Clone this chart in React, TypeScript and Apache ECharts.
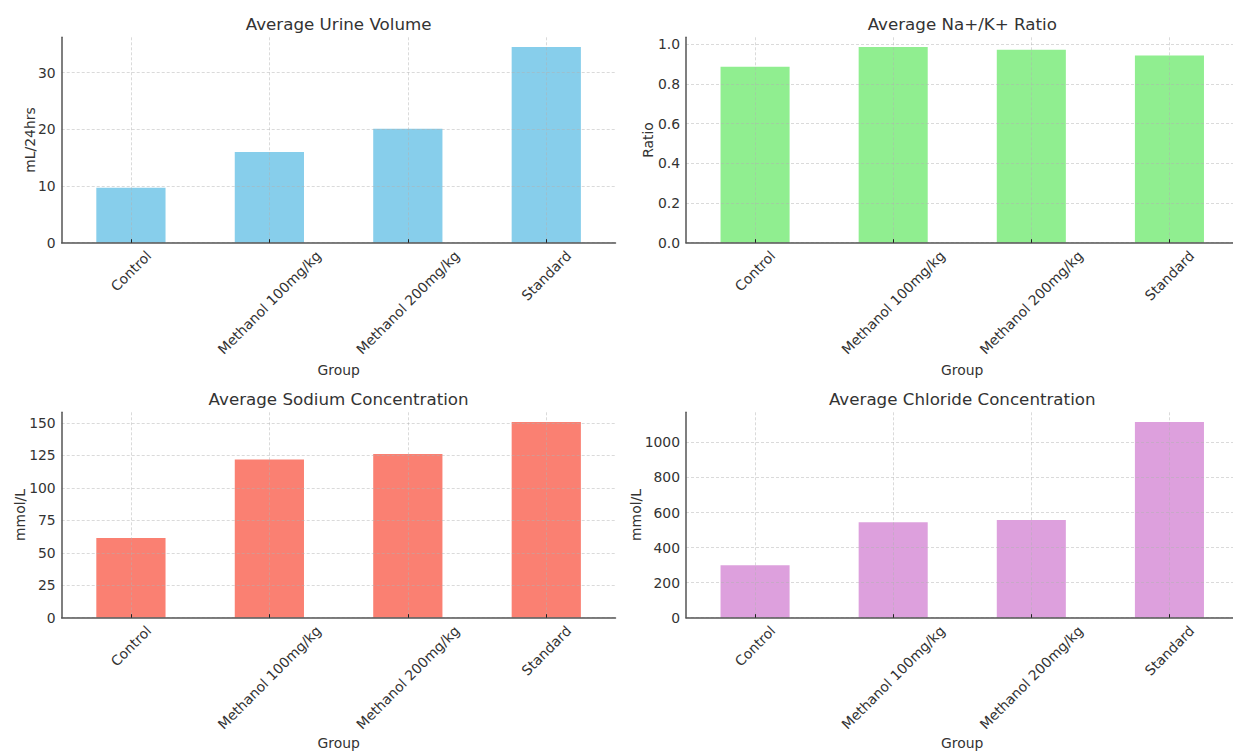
import React, { useEffect, useRef } from 'react';
import * as echarts from 'echarts';

// ---- data ----
const groups = ['Control', 'Methanol 100mg/kg', 'Methanol 200mg/kg', 'Standard'];
const urineVolume = [9.7, 16.0, 20.1, 34.5];
const naKRatio = [0.887, 0.986, 0.973, 0.944];
const sodium = [61.3, 121.7, 126.1, 150.6];
const chloride = [299, 545, 558, 1116];

const titles = ['Average Urine Volume', 'Average Na+/K+ Ratio', 'Average Sodium Concentration', 'Average Chloride Concentration'];
const yNames = ['mL/24hrs', 'Ratio', 'mmol/L', 'mmol/L'];
const xName = 'Group';

// ---- styles / layout ----
const FONT = 'DejaVu Sans';
const TEXT = '#333333';
const colors = ['#87CEEB', '#90EE90', '#FA8072', '#DDA0DD'];
const intervals = [10, 0.2, 25, 200];
const decimals = [0, 1, 0, 0];
const yNameGaps = [25, 31, 35, 43];
const xNameGaps = [120, 120, 118, 118];
const W = 1233;
const H = 751;
const lefts = [61.7, 686, 61.7, 686];
const axisRights = [615.5, 1238.5, 615.5, 1238.5];
const tops = [37.3, 37.3, 412.3, 412.3];
const plotH = 205.4;
const TICK_FS = 13.9;

function measure(text: string): number {
  const c = document.createElement('canvas');
  const ctx = c.getContext('2d')!;
  ctx.font = `${TICK_FS}px "${FONT}"`;
  return ctx.measureText(text).width;
}

export default function App() {
  const ref = useRef<HTMLDivElement>(null);
  useEffect(() => {
    if (!ref.current) return;
    const chart = echarts.init(ref.current, undefined, { renderer: 'svg' });
    const seriesData = [urineVolume, naKRatio, sodium, chloride];

    // matplotlib-like centered rotated labels: shift each label straight down
    const lineH = TICK_FS * 1.164;
    const xData = groups.map((g) => {
      const w = measure(g);
      const D = 4.9 + (w + lineH) * 0.3535;
      const p = 1.414 * D;
      return {
        value: g,
        textStyle: {
          align: 'center',
          verticalAlign: 'top',
          lineHeight: p,
          padding: [0, p, 0, 0],
          fontFamily: FONT,
          fontSize: TICK_FS,
          color: TEXT,
        },
      };
    });

    const grid: any[] = [];
    const xAxis: any[] = [];
    const yAxis: any[] = [];
    const series: any[] = [];
    const title: any[] = [];
    for (let i = 0; i < 4; i++) {
      const vals = seriesData[i];
      const maxV = Math.max(...vals) * 1.05;
      grid.push({
        left: lefts[i],
        right: W - axisRights[i],
        top: tops[i],
        height: plotH,
        containLabel: false,
        outerBoundsMode: 'none',
      });
      title.push({
        text: titles[i],
        left: (lefts[i] + axisRights[i]) / 2,
        top: tops[i] - 22,
        textAlign: 'center',
        padding: 0,
        textStyle: { fontFamily: FONT, fontSize: 16.7, fontWeight: 'normal', color: TEXT },
      });
      xAxis.push({
        type: 'category',
        gridIndex: i,
        data: xData,
        z: 3,
        name: xName,
        nameLocation: 'middle',
        nameGap: xNameGaps[i],
        nameMoveOverlap: false,
        nameTextStyle: { fontFamily: FONT, fontSize: TICK_FS, color: TEXT },
        axisLine: { show: true, lineStyle: { color: '#555', width: 1.5 } },
        axisTick: { show: true, inside: true, alignWithLabel: true, length: 3.5, lineStyle: { color: '#222', width: 1 } },
        axisLabel: {
          interval: 0,
          rotate: 45,
          align: 'center',
          verticalAlign: 'top',
          margin: 0,
          hideOverlap: false,
          fontFamily: FONT,
          fontSize: TICK_FS,
          color: TEXT,
        },
        splitLine: { show: true, alignWithLabel: true, lineStyle: { color: 'rgba(176,176,176,0.6)', width: 0.8, type: [3, 2] } },
      });
      yAxis.push({
        type: 'value',
        gridIndex: i,
        min: 0,
        max: maxV,
        interval: intervals[i],
        z: 3,
        name: yNames[i],
        nameLocation: 'middle',
        nameGap: yNameGaps[i],
        nameMoveOverlap: false,
        nameTextStyle: { fontFamily: FONT, fontSize: TICK_FS, color: TEXT },
        axisLine: { show: true, lineStyle: { color: '#555', width: 1.5 } },
        axisTick: { show: false },
        axisLabel: {
          showMaxLabel: false,
          margin: 6,
          fontFamily: FONT,
          fontSize: TICK_FS,
          color: TEXT,
          formatter: (v: number) => v.toFixed(decimals[i]),
        },
        splitLine: { show: true, showMaxLine: false, lineStyle: { color: 'rgba(176,176,176,0.6)', width: 0.8, type: [3, 2] } },
      });
      series.push({
        type: 'bar',
        xAxisIndex: i,
        yAxisIndex: i,
        data: vals,
        barWidth: '50%',
        itemStyle: { color: colors[i] },
        z: 2,
      });
    }

    chart.setOption({
      animation: false,
      backgroundColor: '#ffffff',
      title,
      grid,
      xAxis,
      yAxis,
      series,
    });
    return () => chart.dispose();
  }, []);
  return <div ref={ref} style={{ position: 'absolute', left: 0, top: 0, width: W, height: H }} />;
}
